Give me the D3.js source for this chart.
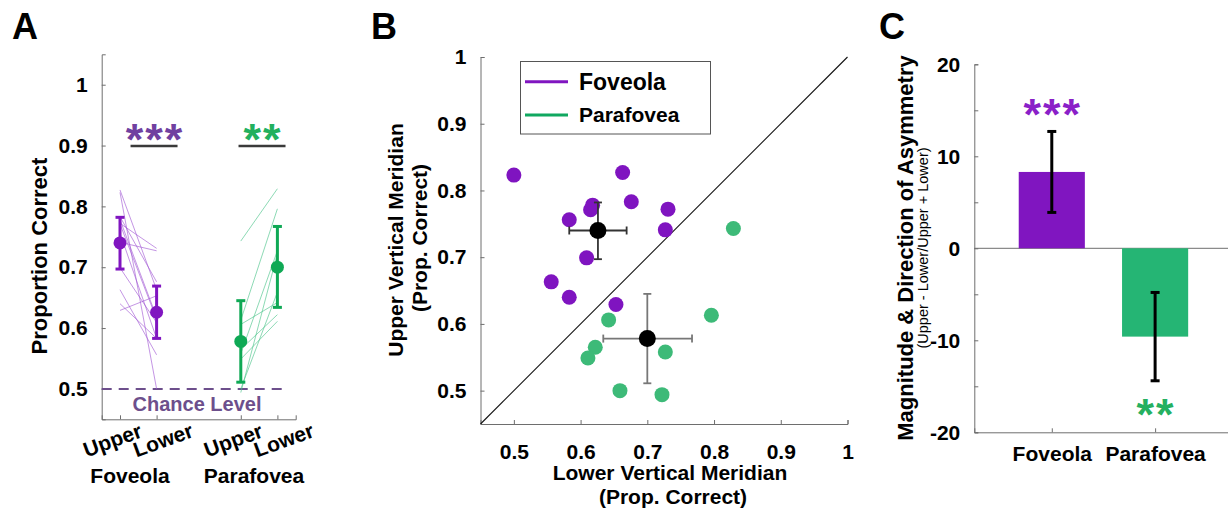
<!DOCTYPE html>
<html lang="en">
<head>
<meta charset="utf-8">
<title>Vertical meridian asymmetry</title>
<script src="https://cdnjs.cloudflare.com/ajax/libs/d3/7.7.0/d3.min.js"></script>
<style>
  body { margin: 0; background: #fff; }
  text { font-family: "Liberation Sans", Arial, sans-serif; font-weight: bold; }
</style>
</head>
<body>
<div id="chart"></div>
<script>
// individual subjects (proportion correct)
const fovUpper = [0.823, 0.827, 0.778, 0.771, 0.783, 0.772, 0.756, 0.741, 0.699, 0.663, 0.640, 0.629];
const fovLower = [0.500, 0.663, 0.618, 0.615, 0.676, 0.731, 0.583, 0.727, 0.609, 0.556, 0.583, 0.653];
const paraUpper = [0.743, 0.613, 0.606, 0.565, 0.549, 0.558, 0.500, 0.494];
const paraLower = [0.829, 0.796, 0.642, 0.622, 0.611, 0.727, 0.659, 0.722];

// group means and error bar ends
const groups = ['Foveola', 'Parafovea'];
const meanUpper = [0.740, 0.578];
const upperLo = [0.697, 0.511];
const upperHi = [0.782, 0.645];
const meanLower = [0.626, 0.700];
const lowerLo = [0.583, 0.634];
const lowerHi = [0.669, 0.767];
const conditions = ['Upper', 'Lower'];
const stars = ['***', '**'];

// asymmetry index (panel C)
const asym = [8.3, -9.6];
const asymErr = [4.4, 4.8];

const yTicksA = [0.5, 0.6, 0.7, 0.8, 0.9, 1];
const ticksB = [0.5, 0.6, 0.7, 0.8, 0.9, 1];
const ticksC = [-20, -15, -10, -5, 0, 5, 10, 15, 20];

const purple = '#8015c0';
const green = '#0fa955';
const dotPurple = '#7f14c0';
const dotGreen = '#3dba78';
const axisCol = '#6e6e6e';

const svg = d3.select('#chart').append('svg')
  .attr('width', 1228).attr('height', 510);

// panel letters
[['A', 12], ['B', 371], ['C', 879]].forEach(p => {
  svg.append('text').attr('x', p[1]).attr('y', 39).attr('font-size', 36).text(p[0]);
});

/* ---------------- panel A ---------------- */
const gA = svg.append('g');
const xA = d3.scaleLinear().domain([0.5, 5.8]).range([101.7, 295.7]);
const yA = d3.scaleLinear().domain([0.45, 1.05]).range([419.3, 54.3]);
const posA = [[1, 2], [4.3, 5.3]];
const starPosA = [1.93, 4.88];

const yAxisA = d3.axisLeft(yA).tickValues(yTicksA).tickSize(-4).tickPadding(14)
  .tickFormat(d => d === 1 ? '1' : d3.format('.1f')(d));
gA.append('g').attr('transform', 'translate(101.7,0)').call(yAxisA);
const xAxisA = d3.axisBottom(xA).tickValues([1, 2, 4.3, 5.3]).tickSize(-4).tickFormat('');
gA.append('g').attr('transform', 'translate(0,419.3)').call(xAxisA);

// chance level
gA.append('line')
  .attr('x1', xA(0.5)).attr('x2', xA(5.5))
  .attr('y1', yA(0.5)).attr('y2', yA(0.5))
  .attr('stroke', '#6d4f8c').attr('stroke-width', 2).attr('stroke-dasharray', '10,7');
gA.append('text').attr('x', 197).attr('y', 411).attr('text-anchor', 'middle')
  .attr('font-size', 20).attr('fill', '#6d4f8c').text('Chance Level');

// subject lines
const subj = [
  {up: fovUpper, lo: fovLower, g: 0, col: '#a35ad6'},
  {up: paraUpper, lo: paraLower, g: 1, col: '#4cc58c'}
];
subj.forEach(s => {
  gA.append('g').selectAll('line')
    .data(s.up.map((u, i) => [u, s.lo[i]]))
    .enter().append('line')
    .attr('x1', xA(posA[s.g][0])).attr('x2', xA(posA[s.g][1]))
    .attr('y1', d => yA(d[0])).attr('y2', d => yA(d[1]))
    .attr('stroke', s.col).attr('stroke-width', 0.8).attr('opacity', 0.8);
});

// means with error bars
groups.forEach((g, i) => {
  const col = i === 0 ? purple : green;
  const pts = [
    {x: posA[i][0], m: meanUpper[i], lo: upperLo[i], hi: upperHi[i]},
    {x: posA[i][1], m: meanLower[i], lo: lowerLo[i], hi: lowerHi[i]}
  ];
  pts.forEach(p => {
    const cx = xA(p.x);
    gA.append('line').attr('x1', cx).attr('x2', cx).attr('y1', yA(p.lo)).attr('y2', yA(p.hi))
      .attr('stroke', col).attr('stroke-width', 3);
    [p.lo, p.hi].forEach(v => {
      gA.append('line').attr('x1', cx - 4.5).attr('x2', cx + 4.5).attr('y1', yA(v)).attr('y2', yA(v))
        .attr('stroke', col).attr('stroke-width', 3);
    });
    gA.append('circle').attr('cx', cx).attr('cy', yA(p.m)).attr('r', 6.5).attr('fill', col);
  });
  // tick labels
  conditions.forEach((c, j) => {
    const tx = xA(posA[i][j]) + (j === 0 ? -5 : 9);
    gA.append('text').attr('font-size', 21).attr('text-anchor', 'middle')
      .attr('transform', 'translate(' + tx + ',447) rotate(-20)').text(c);
  });
  gA.append('text').attr('font-size', 21).attr('text-anchor', 'middle')
    .attr('x', i === 0 ? 130 : 254).attr('y', 483).text(g);

  // significance
  const sx = xA(starPosA[i]);
  gA.append('text').attr('x', sx + 1).attr('y', 155).attr('text-anchor', 'middle')
    .attr('font-size', 45).attr('letter-spacing', 2)
    .attr('fill', i === 0 ? '#7040a0' : '#22b05e').text(stars[i]);
  gA.append('line').attr('x1', sx - 23.5).attr('x2', sx + 23.5).attr('y1', 146).attr('y2', 146)
    .attr('stroke', '#3a3a3a').attr('stroke-width', 2.5);
});

gA.append('text').attr('font-size', 22).attr('text-anchor', 'middle')
  .attr('transform', 'translate(47,256) rotate(-90)').text('Proportion Correct');

/* ---------------- panel B ---------------- */
const gB = svg.append('g');
const xB = d3.scaleLinear().domain([0.45, 1]).range([480.5, 847.5]);
const yB = d3.scaleLinear().domain([0.45, 1]).range([424, 57]);
const fmt = d => d === 1 ? '1' : d3.format('.1f')(d);

gB.append('g').attr('transform', 'translate(480.5,0)')
  .call(d3.axisLeft(yB).tickValues(ticksB).tickSize(-4).tickPadding(14).tickFormat(fmt));
gB.append('g').attr('transform', 'translate(0,424)')
  .call(d3.axisBottom(xB).tickValues(ticksB).tickSize(-4).tickPadding(20).tickFormat(fmt));

// unity line
gB.append('line').attr('x1', xB(0.45)).attr('y1', yB(0.45)).attr('x2', xB(1)).attr('y2', yB(1))
  .attr('stroke', '#111').attr('stroke-width', 1.1);

// subject dots
gB.append('g').selectAll('circle').data(fovLower.map((l, i) => [l, fovUpper[i]]))
  .enter().append('circle')
  .attr('cx', d => xB(d[0])).attr('cy', d => yB(d[1])).attr('r', 7.5).attr('fill', dotPurple);
gB.append('g').selectAll('circle').data(paraLower.map((l, i) => [l, paraUpper[i]]))
  .enter().append('circle')
  .attr('cx', d => xB(d[0])).attr('cy', d => yB(d[1])).attr('r', 7.5).attr('fill', dotGreen);

// mean crosses
groups.forEach((g, i) => {
  const col = i === 0 ? '#333' : '#777';
  const cx = xB(meanLower[i]), cy = yB(meanUpper[i]);
  const seg = (x1, y1, x2, y2) => gB.append('line').attr('x1', x1).attr('y1', y1).attr('x2', x2).attr('y2', y2)
    .attr('stroke', col).attr('stroke-width', 1.8);
  seg(xB(lowerLo[i]), cy, xB(lowerHi[i]), cy);
  seg(cx, yB(upperLo[i]), cx, yB(upperHi[i]));
  [lowerLo[i], lowerHi[i]].forEach(v => seg(xB(v), cy - 4, xB(v), cy + 4));
  [upperLo[i], upperHi[i]].forEach(v => seg(cx - 4, yB(v), cx + 4, yB(v)));
  gB.append('circle').attr('cx', cx).attr('cy', cy).attr('r', 8.5).attr('fill', '#000');
});

// legend
gB.append('rect').attr('x', 520.5).attr('y', 61.5).attr('width', 190).attr('height', 72.5)
  .attr('fill', '#fff').attr('stroke', '#555').attr('stroke-width', 1);
[[purple, 'Foveola', 81.7, 89.5, 23], ['#10a860', 'Parafovea', 115, 121.7, 21]].forEach(l => {
  gB.append('line').attr('x1', 525).attr('x2', 568).attr('y1', l[2]).attr('y2', l[2])
    .attr('stroke', l[0]).attr('stroke-width', 3);
  gB.append('text').attr('x', 579).attr('y', l[3]).attr('font-size', l[4]).text(l[1]);
});

gB.append('text').attr('font-size', 21).attr('text-anchor', 'middle')
  .attr('x', 670).attr('y', 480).text('Lower Vertical Meridian');
gB.append('text').attr('font-size', 21).attr('text-anchor', 'middle')
  .attr('x', 673).attr('y', 504).text('(Prop. Correct)');
gB.append('text').attr('font-size', 21).attr('text-anchor', 'middle')
  .attr('transform', 'translate(403,240) rotate(-90)').text('Upper Vertical Meridian');
gB.append('text').attr('font-size', 21).attr('text-anchor', 'middle')
  .attr('transform', 'translate(427,238) rotate(-90)').text('(Prop. Correct)');

/* ---------------- panel C ---------------- */
const gC = svg.append('g');
const xC = d3.scaleLinear().domain([0.25, 2.75]).range([974.3, 1232.6]);
const yC = d3.scaleLinear().domain([-20, 20]).range([432.3, 64.3]);
const barW = xC(1.32) - xC(1);

gC.append('g').attr('transform', 'translate(974.3,0)')
  .call(d3.axisLeft(yC).tickValues(ticksC).tickSize(-4).tickPadding(14)
    .tickFormat(d => d % 10 === 0 ? d : ''));
gC.append('g').attr('transform', 'translate(0,432.3)')
  .call(d3.axisBottom(xC).tickValues([1, 2]).tickSize(-4).tickPadding(14)
    .tickFormat((d, i) => groups[i]));

// zero line
gC.append('line').attr('x1', 974.3).attr('x2', 1228).attr('y1', yC(0)).attr('y2', yC(0))
  .attr('stroke', axisCol).attr('stroke-width', 1);

gC.selectAll('rect.bar').data(asym).enter().append('rect')
  .attr('class', 'bar')
  .attr('x', (d, i) => xC(i + 1) - barW)
  .attr('width', barW * 2)
  .attr('y', d => yC(Math.max(0, d)))
  .attr('height', d => Math.abs(yC(d) - yC(0)))
  .attr('fill', (d, i) => i === 0 ? '#8015c0' : '#25b574');

asym.forEach((v, i) => {
  const cx = xC(i + 1);
  gC.append('line').attr('x1', cx).attr('x2', cx).attr('y1', yC(v - asymErr[i])).attr('y2', yC(v + asymErr[i]))
    .attr('stroke', '#000').attr('stroke-width', 3);
  [v - asymErr[i], v + asymErr[i]].forEach(e => {
    gC.append('line').attr('x1', cx - 4.5).attr('x2', cx + 4.5).attr('y1', yC(e)).attr('y2', yC(e))
      .attr('stroke', '#000').attr('stroke-width', 3);
  });
  gC.append('text').attr('x', cx + 1).attr('y', i === 0 ? 130 : 430).attr('text-anchor', 'middle')
    .attr('font-size', 45).attr('letter-spacing', 2)
    .attr('fill', i === 0 ? '#8a1fc8' : '#25b060').text(stars[i]);
});

gC.append('text').attr('font-size', 22).attr('text-anchor', 'middle')
  .attr('transform', 'translate(913,248) rotate(-90)').text('Magnitude & Direction of Asymmetry');
gC.append('text').attr('font-size', 14.5).style('font-weight', 'normal')
  .attr('text-anchor', 'middle')
  .attr('transform', 'translate(928,248) rotate(-90)').text('(Upper - Lower/Upper + Lower)');

// shared axis styling
svg.selectAll('.domain').attr('stroke', axisCol);
svg.selectAll('.tick line').attr('stroke', axisCol);
svg.selectAll('.tick text').attr('font-size', 21).attr('fill', '#000')
  .attr('font-family', '"Liberation Sans", Arial, sans-serif').attr('font-weight', 'bold');
</script>
</body>
</html>
